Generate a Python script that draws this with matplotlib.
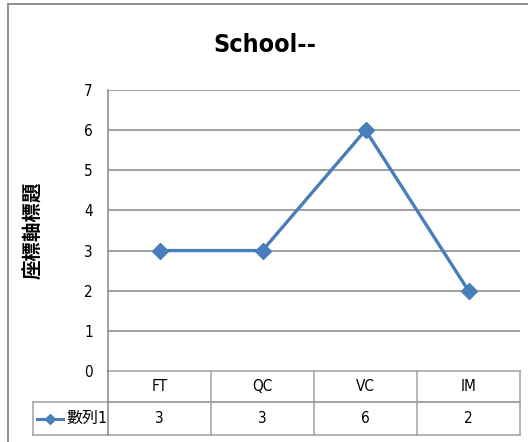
import matplotlib.pyplot as plt
import matplotlib.transforms as mtransforms
from matplotlib.lines import Line2D
from matplotlib.patches import Rectangle

categories = ['FT', 'QC', 'VC', 'IM']
values = [3, 3, 6, 2]
series_name = '數列1'
title = 'School--'
y_label = '座標軸標題'
y_ticks = [0, 1, 2, 3, 4, 5, 6, 7]

W, H = 528, 442
blue = '#4a7ebb'
grid_c = '#868686'
table_c = '#a0a0a0'
font = ['DejaVu Sans', 'Noto Sans CJK TC']
plt.rcParams['font.family'] = font
plt.rcParams['font.stretch'] = 'condensed'

fig = plt.figure(figsize=(W / 100, H / 100), dpi=100)

# outer chart border (runs off right and bottom like the screenshot)
fig.patches.append(Rectangle((8 / W, -0.1), 1.2, (H - 4) / H + 0.1, transform=fig.transFigure,
                             fill=False, edgecolor=grid_c, linewidth=1.3))

left, right, top, bottom = 108, 520, 90, 371
ax = fig.add_axes([left / W, (H - bottom) / H, (right - left) / W, (bottom - top) / H])
x = list(range(len(categories)))
ax.plot(x, values, color=blue, linewidth=2.4, marker='D', markersize=8, zorder=3)
ax.set_xlim(-0.5, len(categories) - 0.5)
ax.set_ylim(0, 7)
ax.set_yticks(y_ticks)
ax.set_yticklabels([str(t) for t in y_ticks], fontsize=11)
ax.tick_params(axis='y', length=0, pad=11)
ax.set_xticks([])
for t in y_ticks[1:]:
    ax.axhline(t, color=grid_c, linewidth=1.1, zorder=1)
for s in ['top', 'right', 'bottom']:
    ax.spines[s].set_visible(False)
ax.spines['left'].set_color(grid_c)
ax.spines['left'].set_linewidth(1.1)

fig.text(265 / W, 1 - 45 / H, title, fontsize=18, fontweight='bold', ha='center', va='center')
ax.set_ylabel(y_label, fontsize=14, fontweight='bold', labelpad=30, family=['Noto Sans CJK TC'])

# data table under the axes
ph = bottom - top
r1 = -31 / ph
r2 = -64 / ph
leg_x = (33 - left) / (right - left)
tr = mtransforms.blended_transform_factory(ax.transData, ax.transAxes)
n = len(categories)
kw = dict(color=table_c, linewidth=1.1, clip_on=False)
ax.add_line(Line2D([-0.5, n - 0.5], [0, 0], transform=tr, **kw))
ax.add_line(Line2D([-0.5, n - 0.5], [r1, r1], transform=tr, **kw))
ax.add_line(Line2D([leg_x, 1], [r1, r1], transform=ax.transAxes, **kw))
ax.add_line(Line2D([leg_x, 1], [r2, r2], transform=ax.transAxes, **kw))
ax.add_line(Line2D([leg_x, leg_x], [r1, r2], transform=ax.transAxes, **kw))
ax.add_line(Line2D([0, 0], [0, r2], transform=ax.transAxes, color=grid_c, linewidth=1.1, clip_on=False))
for i in range(n):
    ax.add_line(Line2D([i + 0.5, i + 0.5], [0, r2], transform=tr, **kw))
    ax.text(i, r1 / 2, categories[i], transform=tr, ha='center', va='center', fontsize=11)
    ax.text(i, (r1 + r2) / 2, str(values[i]), transform=tr, ha='center', va='center', fontsize=11)

# legend key inside the table
ym = (r1 + r2) / 2
ax.add_line(Line2D([(37 - left) / (right - left), (63 - left) / (right - left)], [ym, ym],
                   transform=ax.transAxes, color=blue, linewidth=2.2, clip_on=False))
ax.add_line(Line2D([(50 - left) / (right - left)], [ym], transform=ax.transAxes, color=blue,
                   marker='D', markersize=5, clip_on=False))
ax.text((66 - left) / (right - left), ym, series_name, transform=ax.transAxes, ha='left',
        va='center', fontsize=11.5)

fig.savefig('out.png', dpi=100)
